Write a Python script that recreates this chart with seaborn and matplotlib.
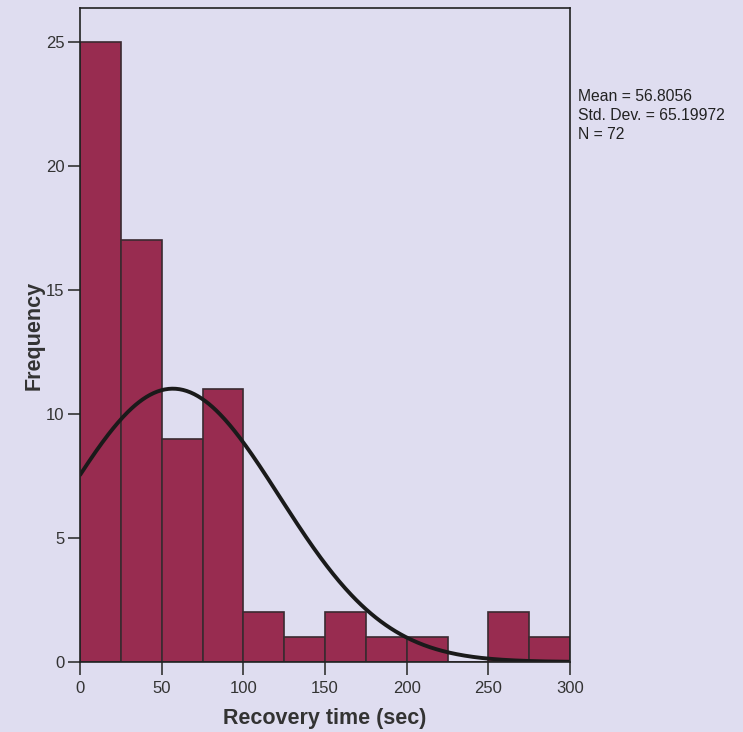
import numpy as np
import matplotlib
matplotlib.use("Agg")
import matplotlib.pyplot as plt
import seaborn as sns

# Histogram bins (width 25 sec) and counts
bin_edges = [0, 25, 50, 75, 100, 125, 150, 175, 200, 225, 250, 275, 300]
counts = [25, 17, 9, 11, 2, 1, 2, 1, 1, 0, 2, 1]
mean_val = 56.8056
std_val = 65.19972
n_val = 72

x_ticks = [0, 50, 100, 150, 200, 250, 300]
y_ticks = [0, 5, 10, 15, 20, 25]

bg = "#DFDDF0"
bar_color = "#982C50"

sns.set_style("white")
plt.rcParams["font.family"] = ["Liberation Sans", "DejaVu Sans"]

fig = plt.figure(figsize=(7.43, 7.32), dpi=100, facecolor=bg)
ax = fig.add_axes([0.1077, 0.0956, 0.6595, 0.8934])
ax.set_facecolor(bg)

centers = [(a + b) / 2 for a, b in zip(bin_edges[:-1], bin_edges[1:])]
sns.histplot(x=centers, weights=counts, bins=bin_edges, ax=ax,
             color=bar_color, alpha=1, edgecolor="#3a2a30", linewidth=1.2)

# fitted normal curve scaled to counts
binw = bin_edges[1] - bin_edges[0]
xs = np.linspace(0, 300, 400)
ys = n_val * binw * np.exp(-0.5 * ((xs - mean_val) / std_val) ** 2) / (std_val * np.sqrt(2 * np.pi))
sns.lineplot(x=xs, y=ys, ax=ax, color="#1a1a1a", linewidth=2.8)

ax.set_xlim(0, 300)
ax.set_ylim(0, 26.35)
ax.set_xticks(x_ticks)
ax.set_yticks(y_ticks)
ax.tick_params(axis="both", which="major", bottom=True, left=True, direction="out",
               length=9, width=1.2, color="#333333", pad=2,
               labelsize=12, labelcolor="#333333")
ax.tick_params(axis="x", pad=5)
for s in ax.spines.values():
    s.set_color("#222222")
    s.set_linewidth(1.2)

ax.set_xlabel("Recovery time (sec)", fontsize=15.5, fontweight="bold", color="#333333", labelpad=8)
ax.set_ylabel("Frequency", fontsize=15.5, fontweight="bold", color="#333333", labelpad=1)

fig.text(0.778, 0.878,
         f"Mean = {mean_val}\nStd. Dev. = {std_val}\nN = {n_val}",
         fontsize=11.3, color="#222222", va="top", ha="left", linespacing=1.3)

fig.savefig("out.png", dpi=100, facecolor=bg)
